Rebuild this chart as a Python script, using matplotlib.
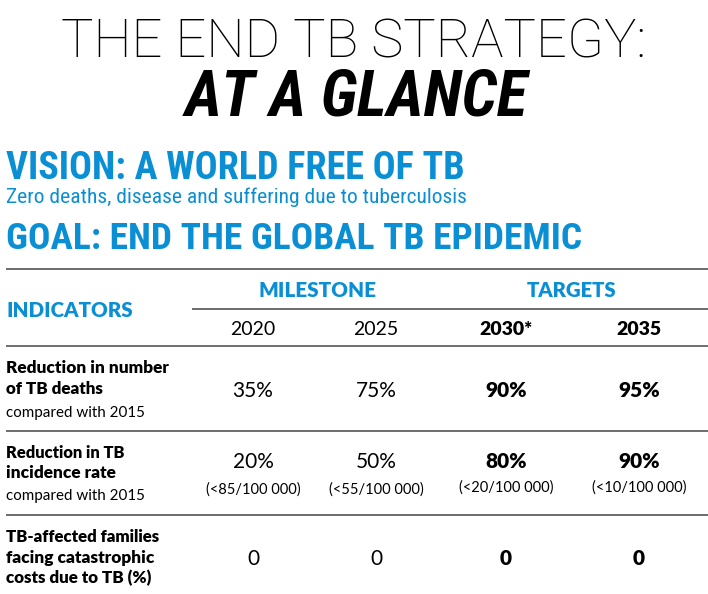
import matplotlib
matplotlib.use("Agg")
import matplotlib.pyplot as plt
from matplotlib import font_manager as fm

# ---------------- data ----------------
title_line1 = "THE END TB STRATEGY:"
title_line2 = "AT A GLANCE"
vision = "VISION: A WORLD FREE OF TB"
vision_sub = "Zero deaths, disease and suffering due to tuberculosis"
goal = "GOAL: END THE GLOBAL TB EPIDEMIC"
group_labels = ["MILESTONE", "TARGETS"]
indicators_header = "INDICATORS"
years = ["2020", "2025", "2030*", "2035"]
year_bold = [False, False, True, True]
indicator_lines = [
    ["Reduction in number", "of TB deaths"],
    ["Reduction in TB", "incidence rate"],
    ["TB-affected families", "facing catastrophic", "costs due to TB (%)"],
]
indicator_notes = ["compared with 2015", "compared with 2015", ""]
row_values = [
    ["35%", "75%", "90%", "95%"],
    ["20%", "50%", "80%", "90%"],
    ["0", "0", "0", "0"],
]
row_subs = [
    ["", "", "", ""],
    ["(<85/100 000)", "(<55/100 000)", "(<20/100 000)", "(<10/100 000)"],
    ["", "", "", ""],
]

# ---------------- fonts ----------------
avail = {f.name for f in fm.fontManager.ttflist}
def pick(*names):
    for n in names:
        if n in avail:
            return n
    return "DejaVu Sans"

THIN = pick("Roboto", "Open Sans", "DejaVu Sans")
BOOK = pick("Lato", "Roboto", "DejaVu Sans")
HEAVY = pick("Lato", "Roboto", "DejaVu Sans")
COND = pick("Roboto Condensed", "Liberation Sans Narrow", "Roboto")
BLUE = "#0a8fd4"
GREY = "#6e6e6e"

W, H = 708, 594
fig = plt.figure(figsize=(W / 100, H / 100), dpi=100)
ax = fig.add_axes([0, 0, 1, 1])
ax.set_xlim(0, W)
ax.set_ylim(H, 0)
ax.axis("off")
fig.canvas.draw()
renderer = fig.canvas.get_renderer()


def fit_text(txt, x0, x1, base, ha="left", size=12, **kw):
    t = ax.text(x0 if ha == "left" else (x0 + x1) / 2, base, txt, ha=ha,
                va="baseline", fontsize=size, **kw)
    w = t.get_window_extent(renderer).width
    t.set_fontsize(size * (x1 - x0) / w)
    return t


# title
fit_text(title_line1, 62, 646, 57, ha="center", size=40, family=THIN,
         weight="light", color="black")
fit_text(title_line2, 185, 527, 116, ha="center", size=40, family=COND,
         weight="bold", style="italic", color="black")

# vision / goal
fit_text(vision, 6, 466, 179, size=20, family=COND, weight="bold", color=BLUE)
fit_text(vision_sub, 6, 466, 203, size=12, family=COND, weight="normal",
         color=BLUE)
fit_text(goal, 6, 583, 249, size=20, family=COND, weight="bold", color=BLUE)

# table lines
lines = [(269, 6), (309, 192), (346, 6), (431, 6), (515, 6)]
for y, x0 in lines:
    ax.plot([x0, W], [y, y], color=GREY, lw=1.4, solid_capstyle="butt")

# header
col_x = [253, 376, 506, 639]
fit_text(group_labels[0], 258, 376, 297, ha="center", size=14, family=HEAVY,
         weight="heavy", color=BLUE)
fit_text(group_labels[1], 527, 617, 297, ha="center", size=14, family=HEAVY,
         weight="heavy", color=BLUE)
fit_text(indicators_header, 6, 133, 317, size=14, family=HEAVY,
         weight="heavy", color=BLUE)
for x, yr, b in zip(col_x, years, year_bold):
    ax.text(x, 335, yr, ha="center", va="baseline", fontsize=14,
            family=HEAVY if b else BOOK, weight="heavy" if b else "normal",
            color="black")

# rows
label_widths = [[168, 103], [125, 115], [160, 153, 152]]
label_bases = [[373, 394], [458, 478], [542, 563, 583]]
note_bases = [417, 500, None]
value_bases = [397, 468, 565]
sub_bases = [None, 494, None]
for r in range(3):
    for line, xe, yb in zip(indicator_lines[r], label_widths[r], label_bases[r]):
        fit_text(line, 6, xe, yb, size=11, family=HEAVY, weight="heavy",
                 color="black")
    if indicator_notes[r]:
        fit_text(indicator_notes[r], 6, 145, note_bases[r], size=10,
                 family=BOOK, weight="normal", color="black")
    for c in range(4):
        b = year_bold[c]
        ax.text(col_x[c], value_bases[r], row_values[r][c], ha="center",
                va="baseline", fontsize=15, family=HEAVY if b else BOOK,
                weight="heavy" if b else "normal", color="black")
        if row_subs[r][c]:
            ax.text(col_x[c], sub_bases[r] - (2 if b else 0), row_subs[r][c],
                    ha="center", va="baseline", fontsize=10.5, family=BOOK,
                    weight="normal", color="black")

fig.savefig("out.png", dpi=100)
